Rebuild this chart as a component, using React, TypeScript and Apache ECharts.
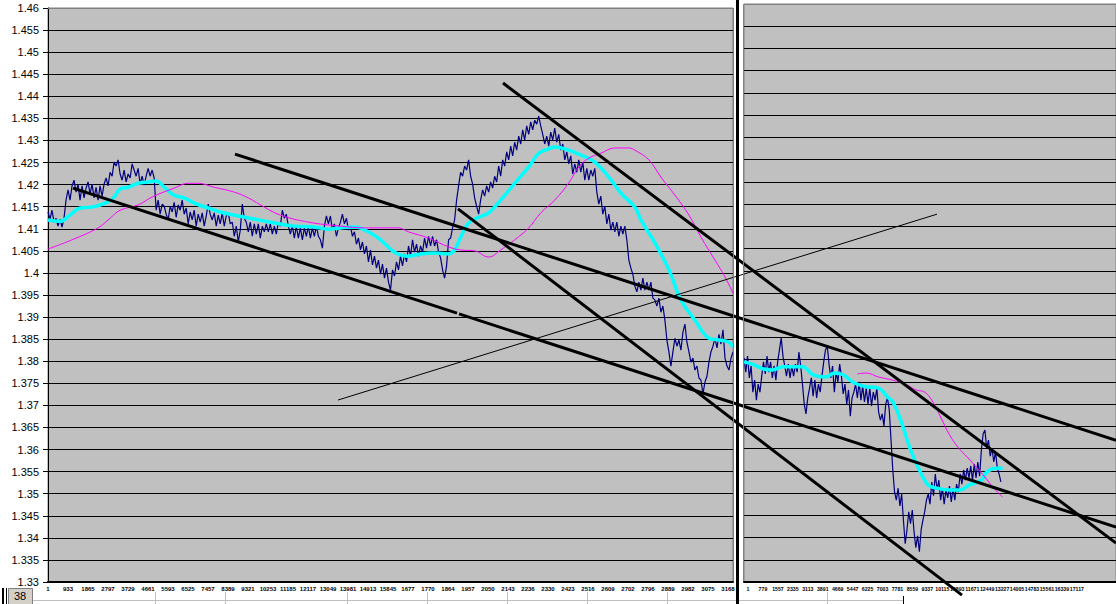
import React, { useEffect, useRef } from 'react';
import * as echarts from 'echarts';

// ---------- data ----------
// left panel: price sampled at evenly spaced points (index = sample)
const leftPrice = [
  1.4138, 1.4122, 1.4142, 1.4115, 1.4124, 1.4106, 1.4122, 1.4104, 1.4124, 1.4165,
  1.4188, 1.4165, 1.4197, 1.4210, 1.4183, 1.4201, 1.4165, 1.4197, 1.4170, 1.4192,
  1.4206, 1.4179, 1.4201, 1.4170, 1.4194, 1.4165, 1.4197, 1.4174, 1.4201, 1.4215,
  1.4197, 1.4228, 1.4219, 1.4251, 1.4242, 1.4256, 1.4224, 1.4210, 1.4233, 1.4206,
  1.4224, 1.4215, 1.4247, 1.4233, 1.4219, 1.4237, 1.4201, 1.4219, 1.4199, 1.4219,
  1.4237, 1.4219, 1.4233, 1.4215, 1.4142, 1.4165, 1.4133, 1.4156, 1.4151, 1.4133,
  1.4120, 1.4151, 1.4138, 1.4160, 1.4126, 1.4154, 1.4142, 1.4165, 1.4133, 1.4147,
  1.4111, 1.4138, 1.4120, 1.4142, 1.4106, 1.4133, 1.4115, 1.4136, 1.4106, 1.4129,
  1.4156, 1.4133, 1.4120, 1.4136, 1.4106, 1.4131, 1.4111, 1.4136, 1.4106, 1.4129,
  1.4136, 1.4111, 1.4115, 1.4083, 1.4106, 1.4070, 1.4097, 1.4156, 1.4124, 1.4115,
  1.4093, 1.4115, 1.4083, 1.4111, 1.4088, 1.4111, 1.4079, 1.4106, 1.4093, 1.4111,
  1.4093, 1.4111, 1.4088, 1.4106, 1.4088, 1.4115, 1.4106, 1.4142, 1.4124, 1.4133,
  1.4106, 1.4088, 1.4106, 1.4079, 1.4106, 1.4079, 1.4102, 1.4075, 1.4102, 1.4083,
  1.4106, 1.4079, 1.4102, 1.4083, 1.4106, 1.4083, 1.4075, 1.4056, 1.4106, 1.4129,
  1.4111, 1.4129, 1.4097, 1.4111, 1.4083, 1.4102, 1.4115, 1.4133, 1.4111, 1.4124,
  1.4097, 1.4106, 1.4083, 1.4093, 1.4065, 1.4079, 1.4052, 1.4070, 1.4043, 1.4061,
  1.4025, 1.4052, 1.4018, 1.4038, 1.4011, 1.4029, 1.3997, 1.4020, 1.3988, 1.4011,
  1.3979, 1.3961, 1.4007, 1.3993, 1.4025, 1.4007, 1.4038, 1.4016, 1.4043, 1.4025,
  1.4061, 1.4038, 1.4075, 1.4047, 1.4065, 1.4038, 1.4061, 1.4047, 1.4079, 1.4056,
  1.4083, 1.4061, 1.4083, 1.4061, 1.4075, 1.4047, 1.4034, 1.4007, 1.3988, 1.4016,
  1.4075, 1.4079, 1.4102, 1.4120, 1.4165, 1.4197, 1.4228, 1.4219, 1.4242, 1.4233,
  1.4256, 1.4219, 1.4201, 1.4170, 1.4151, 1.4133, 1.4165, 1.4188, 1.4174, 1.4197,
  1.4183, 1.4206, 1.4192, 1.4219, 1.4206, 1.4242, 1.4219, 1.4256, 1.4242, 1.4274,
  1.4256, 1.4287, 1.4265, 1.4296, 1.4278, 1.4310, 1.4292, 1.4324, 1.4301, 1.4333,
  1.4314, 1.4342, 1.4324, 1.4346, 1.4337, 1.4355, 1.4333, 1.4314, 1.4292, 1.4310,
  1.4287, 1.4319, 1.4301, 1.4328, 1.4296, 1.4314, 1.4278, 1.4292, 1.4256, 1.4274,
  1.4247, 1.4265, 1.4224, 1.4247, 1.4228, 1.4256, 1.4228, 1.4251, 1.4210, 1.4237,
  1.4210, 1.4233, 1.4219, 1.4237, 1.4183, 1.4156, 1.4174, 1.4133, 1.4151, 1.4111,
  1.4133, 1.4097, 1.4115, 1.4093, 1.4115, 1.4083, 1.4106, 1.4088, 1.4106, 1.4075,
  1.4029, 1.4011, 1.3997, 1.3970, 1.3957, 1.3979, 1.3961, 1.3988, 1.3961, 1.3979,
  1.3961, 1.3979, 1.3943, 1.3939, 1.3925, 1.3943, 1.3911, 1.3925, 1.3893, 1.3848,
  1.3821, 1.3789, 1.3821, 1.3852, 1.3834, 1.3848, 1.3825, 1.3866, 1.3884, 1.3843,
  1.3821, 1.3798, 1.3807, 1.3780, 1.3789, 1.3762, 1.3757, 1.3726, 1.3753, 1.3766,
  1.3798, 1.3821, 1.3834, 1.3852, 1.3830, 1.3861, 1.3839, 1.3871, 1.3807, 1.3789,
  1.3780, 1.3807, 1.3821,
];

// left panel fast (cyan) and slow (magenta) averages: [sample, value]
const leftFast = [
  [0, 1.4120], [6, 1.4117], [11, 1.4131], [16, 1.4147], [22, 1.4149], [30, 1.4161],
  [33, 1.4172], [36, 1.4190], [40, 1.4194], [45, 1.4203], [50, 1.4206], [54, 1.4208],
  [58, 1.4194], [63, 1.4176], [68, 1.4170], [73, 1.4158], [80, 1.4147], [86, 1.4138],
  [95, 1.4129], [103, 1.4122], [113, 1.4113], [123, 1.4106], [133, 1.4104], [140, 1.4099],
  [146, 1.4102], [153, 1.4104], [160, 1.4093], [166, 1.4075], [173, 1.4047], [180, 1.4038],
  [186, 1.4043], [193, 1.4045], [200, 1.4043], [203, 1.4052], [206, 1.4081], [210, 1.4113],
  [215, 1.4126], [220, 1.4136], [226, 1.4165], [233, 1.4203], [240, 1.4240], [245, 1.4271],
  [250, 1.4281], [253, 1.4285], [260, 1.4278], [266, 1.4267], [273, 1.4251], [280, 1.4217],
  [286, 1.4181], [293, 1.4149], [296, 1.4120], [303, 1.4068], [310, 1.4007], [316, 1.3939],
  [323, 1.3893], [330, 1.3852], [335, 1.3848], [340, 1.3843], [342, 1.3832],
];

const leftSlow = [
  [0, 1.4054], [12, 1.4075], [25, 1.4102], [31, 1.4124], [36, 1.4142], [45, 1.4154],
  [52, 1.4172], [63, 1.4192], [70, 1.4203], [75, 1.4203], [83, 1.4194], [93, 1.4183],
  [100, 1.4170], [108, 1.4149], [116, 1.4131], [130, 1.4115], [146, 1.4106], [158, 1.4102],
  [175, 1.4102], [180, 1.4093], [190, 1.4079], [200, 1.4059], [206, 1.4052], [213, 1.4050],
  [220, 1.4036], [226, 1.4052], [233, 1.4075], [240, 1.4102], [246, 1.4136], [253, 1.4165],
  [260, 1.4204], [265, 1.4240], [270, 1.4260], [276, 1.4271], [283, 1.4283], [290, 1.4283],
  [293, 1.4278], [300, 1.4256], [306, 1.4217], [313, 1.4176], [320, 1.4131], [326, 1.4081],
  [333, 1.4029], [338, 1.3991], [342, 1.3954],
];

// right panel
const rightPrice = [
  1.3804, 1.3772, 1.3808, 1.3759, 1.3786, 1.3727, 1.3754, 1.3709, 1.3745, 1.3727,
  1.3763, 1.3795, 1.3768, 1.3808, 1.3772, 1.3795, 1.3759, 1.3786, 1.3754, 1.3795,
  1.3822, 1.3849, 1.3808, 1.3786, 1.3763, 1.3790, 1.3759, 1.3786, 1.3763, 1.3790,
  1.3772, 1.3817, 1.3786, 1.3745, 1.3700, 1.3678, 1.3714, 1.3736, 1.3759, 1.3718,
  1.3754, 1.3714, 1.3745, 1.3727, 1.3763, 1.3795, 1.3822, 1.3831, 1.3790, 1.3759,
  1.3786, 1.3727, 1.3772, 1.3750, 1.3790, 1.3763, 1.3723, 1.3745, 1.3700, 1.3732,
  1.3673, 1.3714, 1.3727, 1.3745, 1.3714, 1.3750, 1.3709, 1.3741, 1.3705, 1.3736,
  1.3700, 1.3736, 1.3696, 1.3727, 1.3709, 1.3736, 1.3682, 1.3664, 1.3678, 1.3651,
  1.3700, 1.3714, 1.3687, 1.3619, 1.3552, 1.3502, 1.3484, 1.3511, 1.3471, 1.3498,
  1.3439, 1.3386, 1.3417, 1.3458, 1.3431, 1.3462, 1.3413, 1.3377, 1.3404, 1.3368,
  1.3417, 1.3439, 1.3458, 1.3484, 1.3498, 1.3475, 1.3525, 1.3494, 1.3543, 1.3507,
  1.3529, 1.3484, 1.3511, 1.3475, 1.3507, 1.3489, 1.3516, 1.3480, 1.3511, 1.3484,
  1.3520, 1.3502, 1.3543, 1.3520, 1.3552, 1.3529, 1.3556, 1.3534, 1.3561, 1.3529,
  1.3565, 1.3534, 1.3570, 1.3538, 1.3597, 1.3633, 1.3642, 1.3601, 1.3619, 1.3583,
  1.3601, 1.3570, 1.3592, 1.3556, 1.3543, 1.3525,
];

const rightFast = [
  [0, 1.3795], [6, 1.3788], [11, 1.3779], [16, 1.3777], [22, 1.3784], [29, 1.3784],
  [33, 1.3784], [39, 1.3766], [46, 1.3761], [51, 1.3770], [56, 1.3766], [62, 1.3748],
  [69, 1.3739], [76, 1.3736], [81, 1.3716], [84, 1.3705], [89, 1.3658], [94, 1.3597],
  [99, 1.3552], [104, 1.3518], [109, 1.3511], [116, 1.3507], [122, 1.3507], [127, 1.3518],
  [134, 1.3529], [137, 1.3547], [142, 1.3556], [146, 1.3556],
];

const rightSlow = [
  [64, 1.3768], [69, 1.3770], [76, 1.3761], [84, 1.3754], [92, 1.3743], [97, 1.3732],
  [102, 1.3727], [106, 1.3709], [111, 1.3671], [116, 1.3631], [121, 1.3602], [126, 1.3581],
  [131, 1.3559], [136, 1.3536], [141, 1.3511], [146, 1.3491],
];

// hand-drawn trend lines: [sample (left-panel scale, extended), price]
const trendLines = [
  { name: 'channel low a', bold: true, points: [[12.5, 1.4192], [204.5, 1.3909]] },
  { name: 'channel low b', bold: true, points: [[205.5, 1.3907], [534, 1.3424]] },
  { name: 'channel high', bold: true, points: [[93.5, 1.4269], [534, 1.3621]] },
  { name: 'steep low', bold: true, points: [[205, 1.4145], [457, 1.3270]] },
  { name: 'steep high', bold: true, points: [[227.5, 1.4430], [534, 1.3388]] },
  { name: 'thin rising', bold: false, points: [[145, 1.3712], [444.5, 1.4133]] },
];

const leftTickLabels = [
  '1', '933', '1865', '2797', '3729', '4661', '5593', '6525', '7457', '8389', '9321',
  '10253', '11185', '12117', '13049', '13981', '14913', '15845', '1677', '1770', '1864',
  '1957', '2050', '2143', '2236', '2330', '2423', '2516', '2609', '2702', '2796', '2889',
  '2982', '3075', '3168',
];
const rightTickLabels = [
  '1', '779', '1557', '2335', '3113', '3891', '4669', '5447', '6225', '7003', '7781',
  '8559', '9337', '10115', '10893', '11671', '12449', '13227', '14005', '14783', '15561',
  '16339', '17117',
];

const LEFT_SAMPLES = 343;
const RIGHT_SAMPLES = 211;
const LEFT_STEP = 932;
const RIGHT_STEP = 778;

const tickFormatter = (labels: string[], step: number) => (v: number) => {
  const k = Math.round(v / step);
  if (Math.abs(k * step - v) > 1) return '';
  return labels[k] ?? '';
};

export default function App() {
  const ref = useRef<HTMLDivElement>(null);

  useEffect(() => {
    if (!ref.current) return;
    const chart = echarts.init(ref.current, undefined, { renderer: 'svg' });
    const leftCats = Array.from({ length: LEFT_SAMPLES }, (_, i) => String(i));
    const rightCats = Array.from({ length: RIGHT_SAMPLES }, (_, i) => String(i));
    const tickLabelBase = {
      fontFamily: 'Liberation Sans, Arial, sans-serif',
      color: '#000',
      margin: 4,
    };
    const priceAxis = { type: 'value' as const, min: 1.33, max: 1.46, interval: 0.005 };

    const option: any = {
      animation: false,
      backgroundColor: '#ffffff',
      grid: [
        { left: 48, top: 8, width: 685, height: 574, show: true, backgroundColor: '#C0C0C0', borderColor: '#808080', borderWidth: 1 },
        { left: 744, top: 4, width: 420, height: 578, show: true, backgroundColor: '#C0C0C0', borderColor: '#808080', borderWidth: 1 },
        { left: 748, top: 4, width: 420, height: 578 },
        // overlay for the hand-drawn lines, spanning the whole picture
        { left: 0, top: 8, width: 1116, height: 596 },
      ],
      xAxis: [
        { type: 'category', gridIndex: 0, data: leftCats, boundaryGap: false, show: false },
        {
          type: 'value', gridIndex: 0, position: 'bottom', min: 0, max: 31921, interval: LEFT_STEP,
          axisLine: { show: true, lineStyle: { color: '#000', width: 2 } },
          axisTick: { show: false }, splitLine: { show: false },
          axisLabel: { ...tickLabelBase, fontSize: 6, fontWeight: 'bold', formatter: tickFormatter(leftTickLabels, LEFT_STEP) },
        },
        {
          type: 'category', gridIndex: 1, data: rightCats, boundaryGap: false,
          axisLine: { show: true, lineStyle: { color: '#000', width: 2 } },
          axisTick: { show: false }, axisLabel: { show: false }, splitLine: { show: false },
        },
        {
          type: 'value', gridIndex: 2, position: 'bottom', min: 0, max: 18998, interval: RIGHT_STEP,
          axisLine: { show: false }, axisTick: { show: false }, splitLine: { show: false },
          axisLabel: { ...tickLabelBase, fontSize: 5.2, fontWeight: 'bold', formatter: tickFormatter(rightTickLabels, RIGHT_STEP) },
        },
        { type: 'value', gridIndex: 3, min: -24, max: 534, show: false, splitLine: { show: false } },
      ],
      yAxis: [
        {
          ...priceAxis, gridIndex: 0,
          axisLine: { show: true, lineStyle: { color: '#000', width: 1 } },
          axisTick: { show: true, length: 5, lineStyle: { color: '#000' } },
          axisLabel: { color: '#000', fontSize: 11, fontFamily: 'Liberation Sans, Arial, sans-serif', margin: 9 },
          splitLine: { show: true, lineStyle: { color: '#000', width: 1 } },
        },
        {
          ...priceAxis, gridIndex: 1,
          axisLine: { show: false }, axisTick: { show: false }, axisLabel: { show: false },
          splitLine: { show: true, lineStyle: { color: '#000', width: 1 } },
        },
        { ...priceAxis, gridIndex: 2, show: false, splitLine: { show: false } },
        { type: 'value', gridIndex: 3, min: 1.325, max: 1.46, show: false, splitLine: { show: false } },
      ],
      series: [
        {
          type: 'line', xAxisIndex: 0, yAxisIndex: 0, data: leftPrice, symbol: 'none',
          lineStyle: { color: '#000080', width: 1.2 }, z: 3,
        },
        {
          type: 'line', xAxisIndex: 0, yAxisIndex: 0, data: leftFast, symbol: 'none', smooth: 0.4,
          lineStyle: { color: '#00FFFF', width: 3.5 }, z: 4,
        },
        {
          type: 'line', xAxisIndex: 0, yAxisIndex: 0, data: leftSlow, symbol: 'none', smooth: 0.4,
          lineStyle: { color: '#FF00FF', width: 1 }, z: 5,
        },
        {
          type: 'line', xAxisIndex: 2, yAxisIndex: 1, data: rightPrice, symbol: 'none',
          lineStyle: { color: '#000080', width: 1.2 }, z: 3,
        },
        {
          type: 'line', xAxisIndex: 2, yAxisIndex: 1, data: rightFast, symbol: 'none', smooth: 0.4,
          lineStyle: { color: '#00FFFF', width: 3.5 }, z: 4,
        },
        {
          type: 'line', xAxisIndex: 2, yAxisIndex: 1, data: rightSlow, symbol: 'none', smooth: 0.4,
          lineStyle: { color: '#FF00FF', width: 1 }, z: 5,
        },
        ...trendLines.map((t) => ({
          type: 'line', name: t.name, xAxisIndex: 4, yAxisIndex: 3, data: t.points, symbol: 'none',
          lineStyle: { color: '#000', width: t.bold ? 3 : 1 }, z: 6,
        })),
      ],
      graphic: [
        { type: 'line', z: 100, shape: { x1: 48, y1: 8.5, x2: 733.5, y2: 8.5 }, style: { stroke: '#808080', lineWidth: 1 } },
        { type: 'line', z: 100, shape: { x1: 733.5, y1: 8, x2: 733.5, y2: 581 }, style: { stroke: '#808080', lineWidth: 1 } },
        { type: 'line', z: 100, shape: { x1: 743.5, y1: 4.5, x2: 1116, y2: 4.5 }, style: { stroke: '#808080', lineWidth: 1 } },
        { type: 'line', z: 100, shape: { x1: 743.5, y1: 4.5, x2: 743.5, y2: 581 }, style: { stroke: '#808080', lineWidth: 1 } },
        { type: 'rect', z: 100, shape: { x: 736, y: 0, width: 3, height: 604 }, style: { fill: '#000' } },
        // spreadsheet fragments under the chart
        { type: 'line', z: 1, shape: { x1: 33, y1: 600.5, x2: 903, y2: 600.5 }, style: { stroke: '#C0C0C0', lineWidth: 1 } },
        ...[155, 225, 347, 427, 507, 587, 667, 827].map((x) => ({
          type: 'line', z: 1, shape: { x1: x + 0.5, y1: 592, x2: x + 0.5, y2: 604 }, style: { stroke: '#C0C0C0', lineWidth: 1 },
        })),
        { type: 'line', z: 1, shape: { x1: 903.5, y1: 596, x2: 903.5, y2: 604 }, style: { stroke: '#000', lineWidth: 1 } },
        { type: 'rect', z: 1, shape: { x: 2, y: 588, width: 2, height: 16 }, style: { fill: '#000' } },
        { type: 'rect', z: 1, shape: { x: 6, y: 588, width: 1, height: 16 }, style: { fill: '#000' } },
        { type: 'rect', z: 1, shape: { x: 8.5, y: 588.5, width: 24, height: 16 }, style: { fill: '#D4D0C8', stroke: '#808080', lineWidth: 1 } },
        {
          type: 'text', z: 2, x: 20, y: 590,
          style: { text: '38', fill: '#000', font: '11px Liberation Sans, Arial, sans-serif', textAlign: 'center', textVerticalAlign: 'top' },
        },
      ],
    };

    chart.setOption(option);
    return () => chart.dispose();
  }, []);

  return (
    <div
      ref={ref}
      style={{ position: 'fixed', left: 0, top: 0, width: 1116, height: 604, background: '#fff' }}
    />
  );
}
